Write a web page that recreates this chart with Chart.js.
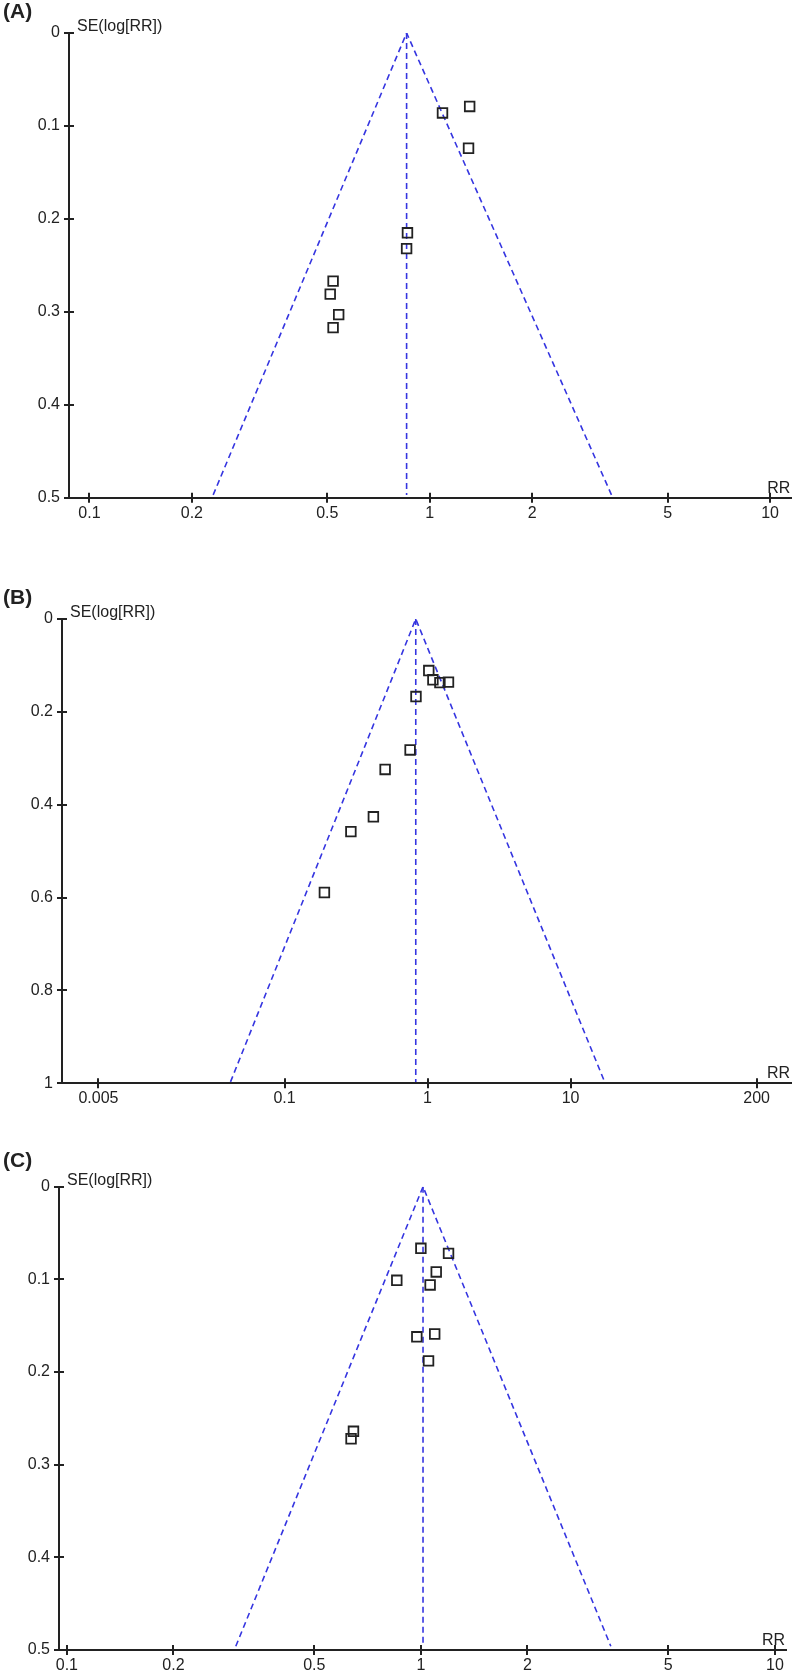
<!DOCTYPE html>
<html lang="en">
<head>
  <meta charset="UTF-8" />
  <title>Funnel plots</title>
  <script src="https://cdn.jsdelivr.net/npm/chart.js@4"></script>
  <style>
    html, body { margin: 0; padding: 0; background: #fff; }
    body { width: 800px; height: 1672px; position: relative; overflow: hidden; }
    .panel { position: absolute; left: 0; width: 800px; }
  </style>
</head>
<body>
  <div class="panel" style="top:0;height:540px"><canvas id="chartA" width="800" height="540"></canvas></div>
  <div class="panel" style="top:560px;height:560px"><canvas id="chartB" width="800" height="560"></canvas></div>
  <div class="panel" style="top:1130px;height:542px"><canvas id="chartC" width="800" height="542"></canvas></div>

  <script>
    // (A)
    const xTicksA = [0.1, 0.2, 0.5, 1, 2, 5, 10];
    const yTicksA = [0, 0.1, 0.2, 0.3, 0.4, 0.5];
    const rrA = [1.09, 1.31, 1.30, 0.86, 0.855, 0.52, 0.51, 0.54, 0.52];
    const seA = [0.086, 0.079, 0.124, 0.215, 0.232, 0.267, 0.281, 0.303, 0.317];
    const funnelRrA = [0.231, 0.855, 3.42];
    const funnelSeA = [0.497, 0, 0.497];
    const centerRrA = [0.855, 0.855];
    const centerSeA = [0, 0.497];

    // (B)
    const xTicksB = [0.005, 0.1, 1, 10, 200];
    const yTicksB = [0, 0.2, 0.4, 0.6, 0.8, 1];
    const rrB = [1.02, 1.09, 1.22, 1.40, 0.83, 0.755, 0.505, 0.418, 0.291, 0.190];
    const seB = [0.111, 0.131, 0.137, 0.136, 0.167, 0.282, 0.324, 0.426, 0.458, 0.589];
    const funnelRrB = [0.0419, 0.827, 17.3];
    const funnelSeB = [0.997, 0, 0.997];
    const centerRrB = [0.827, 0.827];
    const centerSeB = [0, 0.997];

    // (C)
    const xTicksC = [0.1, 0.2, 0.5, 1, 2, 5, 10];
    const yTicksC = [0, 0.1, 0.2, 0.3, 0.4, 0.5];
    const rrC = [1.0, 1.197, 1.105, 0.855, 1.062, 1.094, 0.974, 1.051, 0.645, 0.635];
    const seC = [0.0665, 0.072, 0.092, 0.101, 0.106, 0.159, 0.162, 0.188, 0.264, 0.272];
    const funnelRrC = [0.300, 1.014, 3.44];
    const funnelSeC = [0.496, 0, 0.496];
    const centerRrC = [1.014, 1.014];
    const centerSeC = [0, 0.496];

    const ink = '#222';
    const blue = '#3535e0';
    const fontFamily = '"Liberation Sans", Arial, sans-serif';

    Chart.defaults.font.family = fontFamily;
    Chart.defaults.font.size = 16;
    Chart.defaults.color = ink;

    const pts = (xs, ys) => xs.map((v, i) => ({ x: v, y: ys[i] }));

    // crossing ticks, panel letter, axis titles
    const decor = {
      id: 'decor',
      afterDraw(chart, args, o) {
        const { ctx, chartArea: a, scales: { x, y } } = chart;
        ctx.save();
        ctx.strokeStyle = ink;
        ctx.lineWidth = 2;
        ctx.beginPath();
        x.ticks.forEach(t => {
          const px = Math.round(x.getPixelForValue(t.value));
          ctx.moveTo(px, a.bottom);
          ctx.lineTo(px, a.bottom - 5);
        });
        y.ticks.forEach(t => {
          const py = Math.round(y.getPixelForValue(t.value));
          ctx.moveTo(a.left, py);
          ctx.lineTo(a.left + 5, py);
        });
        ctx.stroke();

        ctx.fillStyle = ink;
        ctx.textAlign = 'left';
        ctx.textBaseline = 'alphabetic';
        ctx.font = 'bold 21px ' + fontFamily;
        ctx.fillText(o.label, 3, o.labelY);
        ctx.font = '16px ' + fontFamily;
        ctx.fillText('SE(log[RR])', a.left + 8, a.top - 2);
        ctx.textAlign = 'right';
        ctx.fillText('RR', a.right - 1, a.bottom - 5);
        ctx.restore();
      }
    };

    function makePanel(id, p) {
      const canvas = document.getElementById(id);
      const h = canvas.height;
      const dashed = {
        showLine: true, pointRadius: 0, borderColor: blue, borderWidth: 1.6,
        borderDash: [6, 4], fill: false, tension: 0
      };
      const axisGrid = { drawOnChartArea: false, tickLength: 5, color: ink, lineWidth: 2 };
      const axisBorder = { color: ink, width: 2 };

      new Chart(canvas, {
        type: 'scatter',
        data: {
          datasets: [
            {
              data: pts(p.rr, p.se), pointStyle: 'rect', pointRadius: 6.8,
              borderColor: ink, borderWidth: 1.8, backgroundColor: 'rgba(0,0,0,0)'
            },
            Object.assign({ data: pts(p.funnelRr, p.funnelSe) }, dashed),
            Object.assign({ data: pts(p.centerRr, p.centerSe) }, dashed)
          ]
        },
        options: {
          responsive: false,
          animation: false,
          events: [],
          layout: { padding: { top: p.top, right: 800 - p.right, left: 0, bottom: 0 } },
          plugins: {
            legend: { display: false },
            tooltip: { enabled: false },
            decor: { label: p.label, labelY: p.labelY }
          },
          scales: {
            x: {
              type: 'logarithmic', min: p.xMin, max: p.xMax,
              afterBuildTicks: s => { s.ticks = p.xTicks.map(v => ({ value: v })); },
              afterFit: s => { s.height = h - p.bottom; s.paddingLeft = 0; s.paddingRight = 0; },
              ticks: { autoSkip: false, maxRotation: 0, padding: 1, callback: v => String(v) },
              grid: axisGrid,
              border: axisBorder
            },
            y: {
              type: 'linear', reverse: true, min: 0, max: p.yMax,
              afterBuildTicks: s => { s.ticks = p.yTicks.map(v => ({ value: v })); },
              afterFit: s => { s.width = p.left; s.paddingTop = 0; s.paddingBottom = 0; },
              ticks: { padding: 4, callback: v => String(v) },
              grid: axisGrid,
              border: axisBorder
            }
          }
        },
        plugins: [decor]
      });
    }

    makePanel('chartA', {
      label: '(A)', labelY: 18, top: 33, bottom: 497.7, left: 69, right: 798,
      xMin: 0.0871, xMax: 11.55, yMax: 0.5, xTicks: xTicksA, yTicks: yTicksA,
      rr: rrA, se: seA, funnelRr: funnelRrA, funnelSe: funnelSeA, centerRr: centerRrA, centerSe: centerSeA
    });
    makePanel('chartB', {
      label: '(B)', labelY: 43.5, top: 59, bottom: 523.3, left: 62, right: 791,
      xMin: 0.00278, xMax: 347.6, yMax: 1, xTicks: xTicksB, yTicks: yTicksB,
      rr: rrB, se: seB, funnelRr: funnelRrB, funnelSe: funnelSeB, centerRr: centerRrB, centerSe: centerSeB
    });
    makePanel('chartC', {
      label: '(C)', labelY: 36.5, top: 56.7, bottom: 520, left: 59, right: 786,
      xMin: 0.0950, xMax: 10.75, yMax: 0.5, xTicks: xTicksC, yTicks: yTicksC,
      rr: rrC, se: seC, funnelRr: funnelRrC, funnelSe: funnelSeC, centerRr: centerRrC, centerSe: centerSeC
    });
  </script>
</body>
</html>
